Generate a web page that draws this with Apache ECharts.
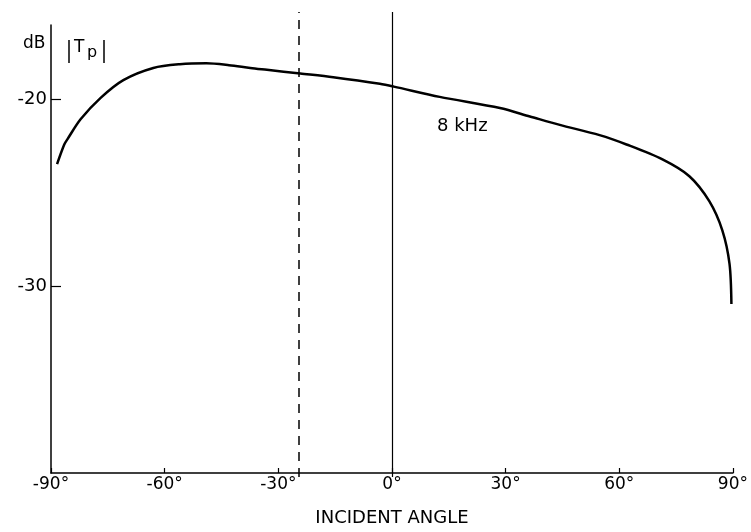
<!DOCTYPE html>
<html>
<head>
<meta charset="utf-8">
<script src="https://cdn.jsdelivr.net/npm/echarts@6/dist/echarts.min.js"></script>
<style>html,body{margin:0;padding:0;background:#fff;}#c{width:751px;height:532px;}</style>
</head>
<body>
<div id="c"></div>
<script>
// Curve |Tp| (dB) vs incident angle (deg), 8 kHz
const angles = [-88.4,-86.5,-85.6,-82.2,-76.9,-70.9,-63,-56,-49,-43,-37.4,-33,-24.2,-15.5,-3.2,0.5,12.6,28.5,36.4,44.3,54.8,61.9,71.4,78.5,83.8,87.2,89.1,89.6];
const tpDb   = [-23.45,-22.4,-22.1,-21.05,-19.9,-18.95,-18.3,-18.1,-18.05,-18.15,-18.3,-18.4,-18.6,-18.8,-19.15,-19.3,-19.85,-20.45,-20.9,-21.35,-21.9,-22.4,-23.2,-24.1,-25.45,-27.0,-28.8,-30.95];
const xTicks = [-90,-60,-30,0,30,60,90];
const yTicks = [-20,-30];
const solidRefAngle = 0;
const dashedRefAngle = -24.5;
const curveLabel = '8 kHz';
const xName = 'INCIDENT ANGLE';

const FONT = 'DejaVu Sans';
const chart = echarts.init(document.getElementById('c'), null, {renderer:'canvas'});
chart.setOption({
  backgroundColor:'#fff',
  animation:false,
  grid:[
    {left:51, right:18, top:25, bottom:55},
    {left:51, right:18, top:12, bottom:55}
  ],
  xAxis:[
    {gridIndex:0, type:'value', min:-90, max:90, interval:30,
     axisLine:{show:true, onZero:false, lineStyle:{color:'#000', width:1.5}},
     axisTick:{show:true, inside:true, length:5, lineStyle:{color:'#000', width:1.2}},
     axisLabel:{color:'#000', fontFamily:FONT, fontSize:17, margin:3,
       formatter:v=>v+'°', customValues:xTicks},
     splitLine:{show:false},
     name:xName, nameLocation:'middle', nameGap:36,
     nameTextStyle:{color:'#000', fontFamily:FONT, fontSize:18, padding:[0,0,0,0]}
    },
    {gridIndex:1, type:'value', min:-90, max:90, show:false}
  ],
  yAxis:[
    {gridIndex:0, type:'value', min:-40, max:-16,
     axisLine:{show:true, onZero:false, lineStyle:{color:'#000', width:1.5}},
     axisTick:{show:true, inside:true, length:10, lineStyle:{color:'#000', width:1.2}, customValues:yTicks},
     axisLabel:{color:'#000', fontFamily:FONT, fontSize:18, margin:4, customValues:yTicks},
     splitLine:{show:false}
    },
    {gridIndex:1, type:'value', min:0, max:1, show:false}
  ],
  series:[
    {type:'line', xAxisIndex:0, yAxisIndex:0,
     data: angles.map((a,i)=>[a,tpDb[i]]),
     smooth:0.3, showSymbol:false, lineStyle:{color:'#000', width:2.5}},
    {type:'line', xAxisIndex:1, yAxisIndex:1, data:[], silent:true,
     markLine:{symbol:'none', silent:true, label:{show:false},
       data:[
         {xAxis:solidRefAngle, lineStyle:{color:'#000', width:1.2, type:'solid'}},
         {xAxis:dashedRefAngle, lineStyle:{color:'#000', width:1.5, type:[9,7]}}
       ]}}
  ],
  graphic:[
    {type:'text', left:23, top:35, style:{text:'dB', fill:'#000', font:'17px "'+FONT+'"'}},
    {type:'line', shape:{x1:69,y1:40,x2:69,y2:63}, style:{stroke:'#000', lineWidth:1.5}},
    {type:'line', shape:{x1:104,y1:40,x2:104,y2:63}, style:{stroke:'#000', lineWidth:1.5}},
    {type:'text', left:74, top:39, style:{text:'T', fill:'#000', font:'17px "'+FONT+'"'}},
    {type:'text', left:87, top:45, style:{text:'p', fill:'#000', font:'16px "'+FONT+'"'}},
    {type:'text', left:437, top:117, style:{text:curveLabel, fill:'#000', font:'18px "'+FONT+'"'}}
  ]
});
</script>
</body>
</html>
